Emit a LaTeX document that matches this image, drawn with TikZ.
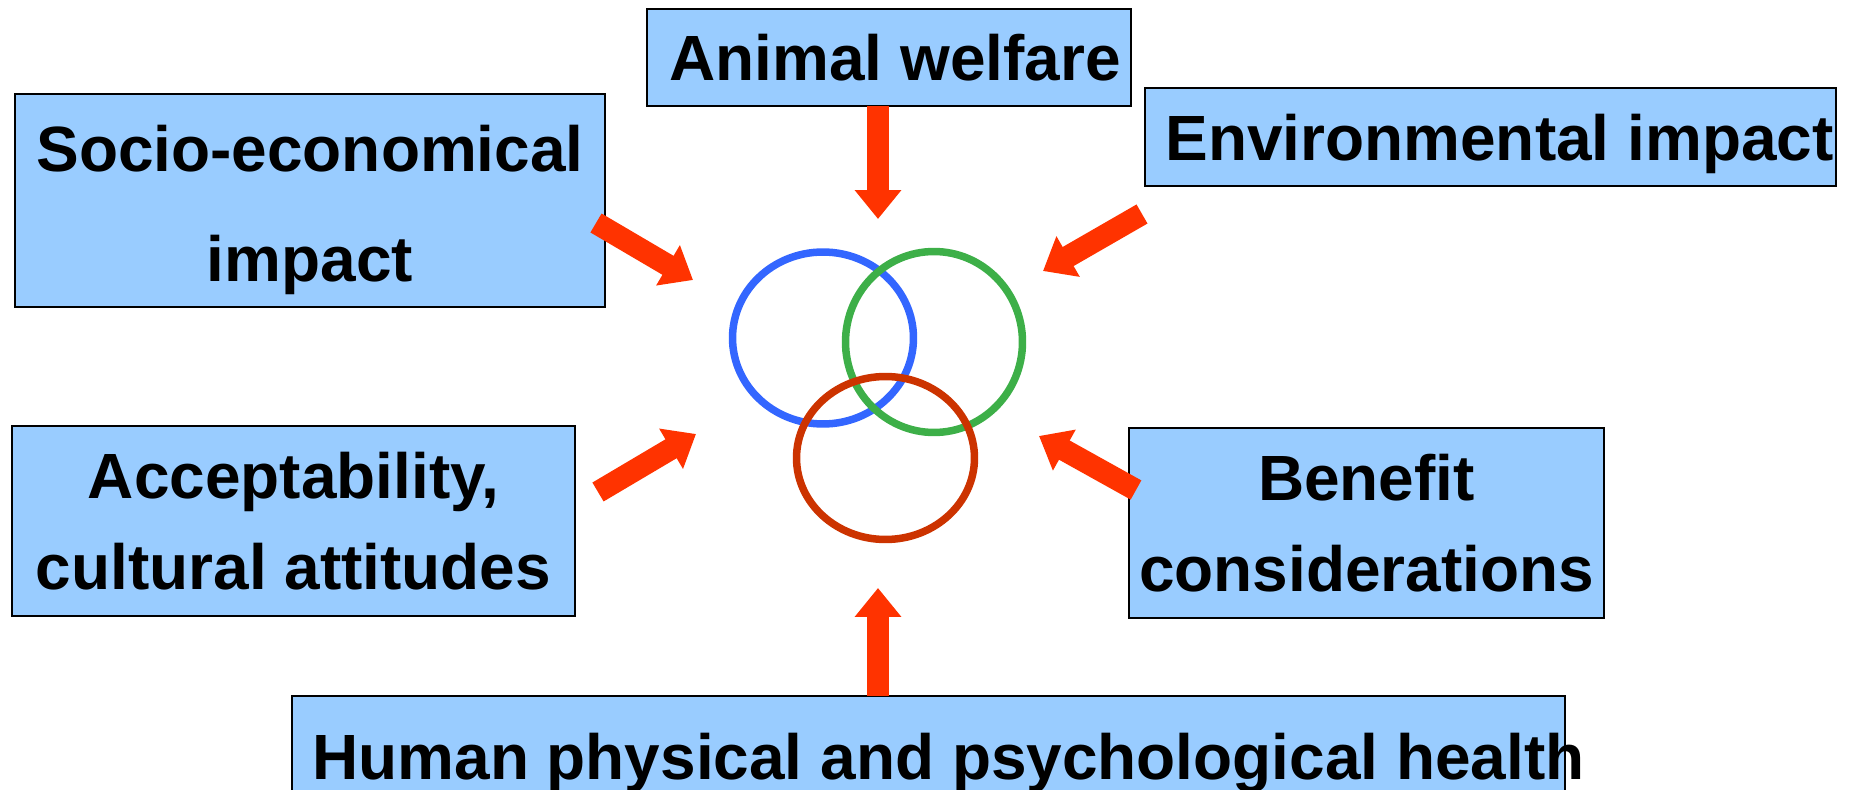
\documentclass[tikz,border=0pt]{standalone}
\usepackage{fontspec}
\setmainfont{Liberation Sans}
\usetikzlibrary{arrows.meta}
\definecolor{boxblue}{HTML}{99CCFF}
\definecolor{arrowred}{HTML}{FF3300}
\definecolor{ringblue}{HTML}{3366FF}
\definecolor{ringgreen}{HTML}{3DAF48}
\definecolor{ringred}{HTML}{CC3300}
\tikzset{x=0.02cm, y=-0.02cm,
  factor/.style={draw=black, line width=0.04cm, fill=boxblue, inner sep=0pt},
  big/.style={inner sep=0pt, align=center, font=\fontsize{36.4}{#1}\selectfont\bfseries},
  push/.style={draw=arrowred, line width=0.44cm, -{Triangle[length=0.58cm, width=0.9cm]}},
  ring/.style={line width=0.15cm}}

\begin{document}
\begin{tikzpicture}
  \useasboundingbox (0,0) rectangle (1856,790);
  \clip (0,0) rectangle (1856,790);

  \node (animal) [factor, minimum width=9.68cm, minimum height=1.94cm] at (889,57.5) {};
  \node (socio) [factor, minimum width=11.8cm, minimum height=4.26cm] at (310,200.5) {};
  \node (env) [factor, minimum width=13.82cm, minimum height=1.96cm] at (1490.5,137) {};
  \node (accept) [factor, minimum width=11.26cm, minimum height=3.8cm] at (293.5,521) {};
  \node (benefit) [factor, minimum width=9.5cm, minimum height=3.8cm] at (1366.5,523) {};
  \node (human) [factor, minimum width=25.46cm, minimum height=2.68cm] at (928.5,763) {};

  \node (animal-txt) [big=44] at ([xshift=0.12cm]animal.center) {Animal welfare};
  \node (socio-txt) [big=62.6] at ([yshift=-0.18cm]socio.center) {Socio-economical\\ impact};
  \node (env-txt) [big=44] at ([xshift=0.18cm, yshift=-0.14cm]env.center) {Environmental impact};
  \node (accept-txt) [big=52] at (accept.center) {Acceptability,\\ cultural attitudes};
  \node (benefit-txt) [big=52] at (benefit.center) {Benefit\\ considerations};
  \node (human-txt) [big=44] at ([xshift=0.4cm]human.center) {Human physical and psychological health};

  % the three rings
  \draw[ring, ringblue] (823,338) ellipse [x radius=1.81cm, y radius=1.72cm];
  \draw[ring, ringgreen] (934,342) ellipse [x radius=1.77cm, y radius=1.81cm];
  \draw[ring, ringred] (885.5,458) ellipse [x radius=1.78cm, y radius=1.63cm];

  \coordinate (animal-out) at (878,106);  \coordinate (animal-in) at (878,219);
  \coordinate (human-out) at (878,696);   \coordinate (human-in) at (878,588);
  \coordinate (socio-out) at (596,223);   \coordinate (socio-in) at (693,280);
  \coordinate (env-out) at (1142,214);    \coordinate (env-in) at (1043,271);
  \coordinate (accept-out) at (598,492);  \coordinate (accept-in) at (696,434);
  \coordinate (benefit-out) at (1136,490);\coordinate (benefit-in) at (1039,436);

  \foreach \f in {animal, human, socio, env, accept, benefit}
    \draw[push] (\f-out) -- (\f-in);
\end{tikzpicture}
\end{document}
